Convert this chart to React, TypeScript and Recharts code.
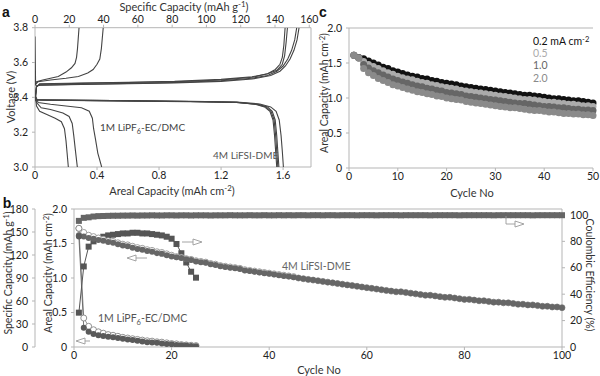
import React from "react";
import { ScatterChart, Scatter, ComposedChart, Line, XAxis, YAxis, ReferenceLine } from "recharts";

const FONT = "Lato, 'Open Sans', sans-serif";

// ---- panel a: voltage profiles, [areal capacity, voltage]
const initialSpike = [[0, 3.75], [0.002, 3.6], [0.004, 3.47]];
const lipfCharge1 = [[0, 3.47], [0.01, 3.49], [0.05, 3.5], [0.1, 3.51], [0.15, 3.52], [0.2, 3.545], [0.235, 3.57], [0.258, 3.595], [0.268, 3.63], [0.274, 3.68], [0.279, 3.74], [0.284, 3.8]];
const lipfCharge2 = [[0, 3.47], [0.02, 3.49], [0.1, 3.5], [0.2, 3.51], [0.28, 3.52], [0.34, 3.54], [0.375, 3.56], [0.4, 3.59], [0.418, 3.62], [0.428, 3.68], [0.434, 3.74], [0.44, 3.8]];
const lifsiCharge1 = [[0, 3.38], [0.01, 3.46], [0.03, 3.475], [0.3, 3.48], [0.6, 3.485], [0.9, 3.49], [1.2, 3.5], [1.4, 3.515], [1.5, 3.535], [1.55, 3.56], [1.58, 3.59], [1.595, 3.63], [1.605, 3.7], [1.613, 3.8]];
const lifsiCharge2 = [[0, 3.38], [0.01, 3.46], [0.03, 3.478], [0.3, 3.482], [0.6, 3.487], [0.9, 3.492], [1.2, 3.503], [1.4, 3.518], [1.5, 3.535], [1.56, 3.555], [1.595, 3.59], [1.61, 3.64], [1.62, 3.72], [1.628, 3.8]];
const lifsiCharge3 = [[0, 3.38], [0.01, 3.465], [0.03, 3.47], [0.3, 3.475], [0.6, 3.48], [0.9, 3.485], [1.2, 3.495], [1.4, 3.51], [1.5, 3.525], [1.56, 3.55], [1.6, 3.58], [1.63, 3.62], [1.655, 3.67], [1.675, 3.73], [1.688, 3.8]];
const lifsiCharge4 = [[0, 3.38], [0.01, 3.465], [0.03, 3.47], [0.3, 3.474], [0.6, 3.478], [0.9, 3.483], [1.2, 3.492], [1.4, 3.505], [1.52, 3.525], [1.58, 3.55], [1.615, 3.58], [1.645, 3.62], [1.67, 3.67], [1.69, 3.73], [1.703, 3.8]];
const lipfDischarge1 = [[0, 3.42], [0.01, 3.35], [0.03, 3.32], [0.08, 3.3], [0.13, 3.28], [0.17, 3.26], [0.19, 3.22], [0.2, 3.15], [0.207, 3.08], [0.215, 3.0]];
const lipfDischarge2 = [[0, 3.42], [0.01, 3.37], [0.04, 3.34], [0.1, 3.33], [0.18, 3.31], [0.22, 3.29], [0.24, 3.25], [0.25, 3.18], [0.26, 3.1], [0.273, 3.0]];
const lipfDischarge3 = [[0, 3.42], [0.02, 3.37], [0.1, 3.36], [0.2, 3.35], [0.3, 3.34], [0.35, 3.32], [0.37, 3.28], [0.378, 3.22], [0.39, 3.16], [0.405, 3.08], [0.43, 3.0]];
const lifsiDischarge1 = [[0, 3.4], [0.01, 3.385], [0.1, 3.383], [0.5, 3.38], [1.0, 3.375], [1.3, 3.37], [1.42, 3.36], [1.48, 3.345], [1.515, 3.32], [1.535, 3.27], [1.545, 3.18], [1.552, 3.09], [1.559, 3.0]];
const lifsiDischarge2 = [[0, 3.4], [0.01, 3.386], [0.1, 3.384], [0.5, 3.381], [1.0, 3.376], [1.3, 3.371], [1.43, 3.36], [1.49, 3.345], [1.522, 3.32], [1.542, 3.27], [1.552, 3.18], [1.559, 3.09], [1.566, 3.0]];
const lifsiDischarge3 = [[0, 3.4], [0.01, 3.386], [0.1, 3.384], [0.5, 3.381], [1.0, 3.376], [1.3, 3.372], [1.44, 3.36], [1.5, 3.345], [1.53, 3.32], [1.549, 3.27], [1.559, 3.18], [1.566, 3.09], [1.573, 3.0]];
const lifsiDischarge4 = [[0, 3.4], [0.01, 3.387], [0.1, 3.385], [0.5, 3.382], [1.0, 3.378], [1.3, 3.373], [1.45, 3.362], [1.52, 3.345], [1.555, 3.32], [1.575, 3.27], [1.587, 3.18], [1.595, 3.09], [1.602, 3.0]];

const voltageCurves = [
  initialSpike, lipfCharge1, lipfCharge2, lifsiCharge1, lifsiCharge2, lifsiCharge3, lifsiCharge4,
  lipfDischarge1, lipfDischarge2, lipfDischarge3, lifsiDischarge1, lifsiDischarge2, lifsiDischarge3, lifsiDischarge4,
];

// ---- panel b: cycling, 4M LiFSI-DME (100 cycles) and 1M LiPF6-EC/DMC (25 cycles)
const lifsiDis = [
  1.62, 1.6, 1.58, 1.57, 1.55, 1.54, 1.52, 1.51, 1.49, 1.47,
  1.46, 1.44, 1.42, 1.41, 1.39, 1.38, 1.36, 1.35, 1.33, 1.31,
  1.3, 1.29, 1.27, 1.26, 1.24, 1.23, 1.22, 1.2, 1.19, 1.17,
  1.16, 1.15, 1.14, 1.13, 1.11, 1.1, 1.09, 1.08, 1.07, 1.06,
  1.05, 1.04, 1.03, 1.02, 1.01, 1.0, 0.99, 0.98, 0.97, 0.96,
  0.95, 0.94, 0.93, 0.92, 0.91, 0.9, 0.89, 0.88, 0.87, 0.86,
  0.85, 0.84, 0.83, 0.82, 0.81, 0.8, 0.8, 0.79, 0.78, 0.77,
  0.76, 0.75, 0.75, 0.74, 0.73, 0.72, 0.72, 0.71, 0.7, 0.69,
  0.69, 0.68, 0.67, 0.67, 0.66, 0.65, 0.65, 0.64, 0.64, 0.63,
  0.62, 0.62, 0.61, 0.61, 0.6, 0.59, 0.59, 0.58, 0.58, 0.57,
];
const lifsiChg = [
  1.72, 1.66, 1.62, 1.6, 1.58, 1.56, 1.54, 1.53, 1.51, 1.49,
  1.48, 1.46, 1.44, 1.43, 1.41, 1.4, 1.38, 1.37, 1.35, 1.33,
  1.31, 1.3, 1.28, 1.27, 1.25, 1.24, 1.23, 1.21, 1.2, 1.18,
  1.17, 1.16, 1.15, 1.14, 1.12, 1.11, 1.1, 1.09, 1.08, 1.07,
  1.06, 1.05, 1.04, 1.03, 1.02, 1.0, 0.99, 0.98, 0.97, 0.96,
  0.95, 0.94, 0.93, 0.92, 0.91, 0.9, 0.89, 0.88, 0.87, 0.86,
  0.85, 0.84, 0.83, 0.82, 0.81, 0.8, 0.8, 0.79, 0.78, 0.77,
  0.76, 0.75, 0.75, 0.74, 0.73, 0.72, 0.72, 0.71, 0.7, 0.69,
  0.69, 0.68, 0.67, 0.67, 0.66, 0.65, 0.65, 0.64, 0.64, 0.63,
  0.62, 0.62, 0.61, 0.61, 0.6, 0.59, 0.59, 0.58, 0.58, 0.57,
];
const lifsiCE = [
  95.5, 97.8, 98.2, 98.8, 99.1, 99.2, 99.3, 99.4, 99.4, 99.5,
  99.5, 99.6, 99.5, 99.6, 99.6, 99.7, 99.6, 99.6, 99.7, 99.7,
  99.6, 99.7, 99.7, 99.6, 99.7, 99.7, 99.7, 99.6, 99.7, 99.7,
  99.7, 99.8, 99.7, 99.7, 99.7, 99.8, 99.7, 99.7, 99.8, 99.7,
  99.7, 99.8, 99.7, 99.8, 99.7, 99.8, 99.8, 99.7, 99.8, 99.8,
  99.7, 99.8, 99.8, 99.7, 99.8, 99.8, 99.8, 99.7, 99.8, 99.8,
  99.8, 99.7, 99.8, 99.8, 99.8, 99.8, 99.7, 99.8, 99.8, 99.8,
  99.8, 99.8, 99.7, 99.8, 99.8, 99.8, 99.8, 99.8, 99.7, 99.8,
  99.8, 99.8, 99.8, 99.8, 99.8, 99.7, 99.8, 99.8, 99.8, 99.8,
  99.8, 99.8, 99.8, 99.7, 99.8, 99.8, 99.8, 99.8, 99.8, 99.8,
];
const lipfDis = [
  1.6, 0.28, 0.22, 0.19, 0.17, 0.16, 0.15, 0.14, 0.13, 0.12,
  0.11, 0.1, 0.09, 0.08, 0.07, 0.065, 0.06, 0.05, 0.045, 0.04,
  0.03, 0.025, 0.02, 0.015, 0.01,
];
const lipfChg = [
  1.72, 0.42, 0.3, 0.25, 0.22, 0.2, 0.18, 0.17, 0.155, 0.14,
  0.13, 0.12, 0.11, 0.1, 0.09, 0.085, 0.075, 0.07, 0.06, 0.05,
  0.045, 0.035, 0.03, 0.025, 0.02,
];
const lipfCE = [
  26, 61, 76, 80, 82, 83.5, 84.5, 85, 85.5, 86,
  86, 86.5, 86.5, 86, 86, 85.5, 85, 84.5, 83.5, 82,
  78, 71, 64, 57, 52.5,
];

// ---- panel c: rate comparison (mA cm-2)
const rateLabels = ["0.2", "0.5", "1.0", "2.0"];
const rate02 = [
  1.61, 1.58, 1.56, 1.53, 1.5, 1.47, 1.44, 1.42, 1.39, 1.37,
  1.35, 1.33, 1.31, 1.3, 1.28, 1.27, 1.25, 1.24, 1.22, 1.21,
  1.2, 1.19, 1.17, 1.16, 1.15, 1.14, 1.13, 1.12, 1.11, 1.1,
  1.09, 1.08, 1.07, 1.06, 1.05, 1.04, 1.04, 1.03, 1.02, 1.01,
  1.0, 0.99, 0.99, 0.98, 0.97, 0.96, 0.96, 0.95, 0.94, 0.93,
];
const rate05 = [
  1.61, 1.57, 1.52, 1.48, 1.45, 1.42, 1.39, 1.36, 1.34, 1.31,
  1.29, 1.27, 1.26, 1.24, 1.22, 1.21, 1.19, 1.18, 1.16, 1.15,
  1.14, 1.13, 1.11, 1.1, 1.09, 1.08, 1.07, 1.06, 1.05, 1.04,
  1.03, 1.02, 1.01, 1.0, 0.99, 0.98, 0.98, 0.97, 0.96, 0.95,
  0.94, 0.94, 0.93, 0.92, 0.91, 0.91, 0.9, 0.89, 0.89, 0.88,
];
const rate10 = [
  1.61, 1.57, 1.48, 1.43, 1.39, 1.36, 1.33, 1.3, 1.27, 1.25,
  1.23, 1.21, 1.19, 1.17, 1.16, 1.14, 1.13, 1.11, 1.1, 1.08,
  1.07, 1.06, 1.05, 1.03, 1.02, 1.01, 1.0, 0.99, 0.98, 0.97,
  0.96, 0.95, 0.94, 0.93, 0.92, 0.92, 0.91, 0.9, 0.89, 0.88,
  0.88, 0.87, 0.86, 0.86, 0.85, 0.84, 0.84, 0.83, 0.83, 0.82,
];
const rate20 = [
  1.61, 1.57, 1.42, 1.36, 1.32, 1.28, 1.25, 1.22, 1.19, 1.17,
  1.15, 1.13, 1.11, 1.09, 1.08, 1.06, 1.05, 1.03, 1.02, 1.0,
  0.99, 0.98, 0.97, 0.95, 0.94, 0.93, 0.92, 0.91, 0.9, 0.89,
  0.88, 0.87, 0.86, 0.86, 0.85, 0.84, 0.83, 0.82, 0.82, 0.81,
  0.8, 0.8, 0.79, 0.78, 0.78, 0.77, 0.77, 0.76, 0.76, 0.75,
];
const rateColors = ["#111111", "#ababab", "#666666", "#8a8a8a"];

const cycleRows = lifsiDis.map((d, i) => ({
  cycle: i + 1,
  lifsiDis: d,
  lifsiChg: lifsiChg[i],
  lifsiCE: lifsiCE[i],
  lipfDis: lipfDis[i],
  lipfChg: lipfChg[i],
  lipfCE: lipfCE[i],
}));
const rateRows = rate02.map((v, i) => ({ cycle: i + 1, r02: v, r05: rate05[i], r10: rate10[i], r20: rate20[i] }));

const tickStyle = { fontSize: 10.5, fill: "#222", fontFamily: FONT };
const axisGray = "#b5b5b5";
const one = (v: number) => (v === 0 ? "0" : v.toFixed(1));

const circleDot = (fill: string, stroke: string, r: number) => (p: any) => {
  const k = `c${p.index}`;
  if (p.value == null || p.cy == null || Number.isNaN(p.cy)) return <g key={k} />;
  return <circle key={k} cx={p.cx} cy={p.cy} r={r} fill={fill} stroke={stroke} strokeWidth={0.8} />;
};
const squareDot = (fill: string, s: number) => (p: any) => {
  const k = `s${p.index}`;
  if (p.value == null || p.cy == null || Number.isNaN(p.cy)) return <g key={k} />;
  return <rect key={k} x={p.cx - s / 2} y={p.cy - s / 2} width={s} height={s} fill={fill} />;
};

function T({ x, y, rot = 0, start = false, color = "#333", size = 10.5, bold = false, children }: any) {
  return (
    <div
      style={{
        position: "absolute",
        left: x,
        top: y,
        transform: `translate(${start ? "0" : "-50%"}, -50%) rotate(${rot}deg)`,
        whiteSpace: "nowrap",
        fontFamily: bold ? "Arial, 'Liberation Sans', sans-serif" : FONT,
        fontWeight: bold ? 700 : 400,
        fontSize: size,
        lineHeight: 1,
        color,
      }}
    >
      {children}
    </div>
  );
}
const Sup = ({ children }: any) => <span style={{ fontSize: "0.72em", position: "relative", top: "-0.45em" }}>{children}</span>;
const Sub = ({ children }: any) => <span style={{ fontSize: "0.72em", position: "relative", top: "0.35em" }}>{children}</span>;

function Arrow({ x1, x2, y, dir }: { x1: number; x2: number; y: number; dir: "l" | "r" }) {
  const head = 9;
  const pts = dir === "r"
    ? `${x2 - head},${y - 3} ${x2},${y} ${x2 - head},${y + 3}`
    : `${x1 + head},${y - 3} ${x1},${y} ${x1 + head},${y + 3}`;
  const line = dir === "r" ? `M${x1},${y} L${x2 - head},${y}` : `M${x1 + head},${y} L${x2},${y}`;
  return (
    <g stroke="#9a9a9a" strokeWidth={0.9} fill="#fff">
      <path d={line} fill="none" />
      <polygon points={pts} />
    </g>
  );
}

export default function App() {
  return (
    <div style={{ position: "absolute", left: 0, top: 0, width: 600, height: 376, background: "#fff", overflow: "hidden" }}>
      {/* panel a */}
      <div style={{ position: "absolute", left: 0, top: 0 }}>
        <ScatterChart width={320} height={195} margin={{ top: 7.7, right: 9, bottom: 0, left: 0 }}>
          <XAxis xAxisId="bot" type="number" dataKey="x" domain={[0, 1.78]} allowDataOverflow ticks={[0, 0.4, 0.8, 1.2, 1.6]}
            tickFormatter={one} height={28} tick={tickStyle} stroke={axisGray} tickSize={3} />
          <XAxis xAxisId="top" orientation="top" type="number" dataKey="x" domain={[0, 161]} allowDataOverflow
            ticks={[0, 20, 40, 60, 80, 100, 120, 140, 160]} height={20} tick={tickStyle} stroke={axisGray} tickSize={3} />
          <YAxis type="number" dataKey="v" domain={[3.0, 3.8]} allowDataOverflow ticks={[3.0, 3.2, 3.4, 3.6, 3.8]}
            tickFormatter={(v: number) => v.toFixed(1)} width={35} tick={tickStyle} stroke={axisGray} tickSize={3} tickMargin={4} />
          <ReferenceLine xAxisId="bot" x={1.78} stroke={axisGray} />
          {voltageCurves.map((c, i) => (
            <Scatter key={i} xAxisId="bot" data={c.map(([x, v]) => ({ x, v }))} line={{ stroke: "#444", strokeWidth: 1.1 }}
              lineType="joint" shape={() => <g />} isAnimationActive={false} />
          ))}
        </ScatterChart>
      </div>

      {/* panel c */}
      <div style={{ position: "absolute", left: 310, top: 0 }}>
        <ComposedChart width={290} height={195} data={rateRows} margin={{ top: 28, right: 7, bottom: 0, left: 0 }}>
          <XAxis dataKey="cycle" type="number" domain={[0, 50]} ticks={[0, 10, 20, 30, 40, 50]} height={27}
            tick={tickStyle} stroke={axisGray} tickSize={3} />
          <YAxis domain={[0, 2]} allowDataOverflow ticks={[0, 0.5, 1, 1.5, 2]} tickFormatter={one} width={39}
            tick={tickStyle} stroke={axisGray} tickSize={3} tickMargin={4} />
          <ReferenceLine y={2} stroke={axisGray} />
          {["r02", "r05", "r10", "r20"].map((k, i) => (
            <Line key={k} dataKey={k} stroke="none" dot={circleDot(rateColors[i], "none", 3.5)} isAnimationActive={false} />
          ))}
        </ComposedChart>
      </div>

      {/* panel b */}
      <div style={{ position: "absolute", left: 0, top: 190 }}>
        <ComposedChart width={600} height={186} data={cycleRows} margin={{ top: 19, right: 0, bottom: 0, left: 0 }}>
          <XAxis dataKey="cycle" type="number" domain={[0, 100]} ticks={[0, 20, 40, 60, 80, 100]} height={29}
            tick={tickStyle} stroke={axisGray} tickSize={3} />
          <YAxis yAxisId="areal" domain={[0, 2]} allowDataOverflow ticks={[0, 0.5, 1, 1.5, 2]} tickFormatter={one}
            width={39} tick={tickStyle} stroke={axisGray} tickSize={3} tickMargin={4} />
          <YAxis yAxisId="spec" domain={[0, 180]} allowDataOverflow ticks={[0, 30, 60, 90, 120, 150, 180]}
            width={35} tick={tickStyle} stroke={axisGray} tickSize={3} tickMargin={4} />
          <YAxis yAxisId="ce" orientation="right" domain={[0, 104.5]} allowDataOverflow ticks={[0, 20, 40, 60, 80, 100]}
            width={38} tick={tickStyle} stroke={axisGray} tickSize={3} tickMargin={5} />
          <ReferenceLine yAxisId="areal" y={2} stroke={axisGray} />
          <Line yAxisId="ce" dataKey="lifsiCE" stroke="#666" strokeWidth={1} dot={squareDot("#666", 6)} isAnimationActive={false} />
          <Line yAxisId="ce" dataKey="lipfCE" stroke="#555" strokeWidth={1} dot={squareDot("#555", 6)} isAnimationActive={false} />
          <Line yAxisId="areal" dataKey="lifsiChg" stroke="#888" strokeWidth={0.8} dot={circleDot("#fff", "#888", 3)} isAnimationActive={false} />
          <Line yAxisId="areal" dataKey="lipfChg" stroke="#777" strokeWidth={0.8} dot={circleDot("#fff", "#777", 3)} isAnimationActive={false} />
          <Line yAxisId="areal" dataKey="lifsiDis" stroke="#666" strokeWidth={0.8} dot={circleDot("#666", "none", 3)} isAnimationActive={false} />
          <Line yAxisId="areal" dataKey="lipfDis" stroke="#555" strokeWidth={0.8} dot={circleDot("#5a5a5a", "none", 3)} isAnimationActive={false} />
        </ComposedChart>
      </div>

      {/* arrows of panel b */}
      <svg width={600} height={376} style={{ position: "absolute", left: 0, top: 0, pointerEvents: "none" }}>
        <Arrow x1={182} x2={202} y={242} dir="r" />
        <Arrow x1={127} x2={147} y={258} dir="l" />
        <Arrow x1={76} x2={90} y={341} dir="l" />
        <path d="M506,216 L506,224 L515,224" stroke="#9a9a9a" strokeWidth={0.9} fill="none" />
        <polygon points="515,221 524,224 515,227" stroke="#9a9a9a" strokeWidth={0.9} fill="#fff" />
      </svg>

      {/* text */}
      <T x={6} y={12} size={14} bold color="#111">a</T>
      <T x={7} y={203} size={14} bold color="#111">b</T>
      <T x={323} y={12} size={14} bold color="#111">c</T>

      <T x={184} y={7} size={11}>Specific Capacity (mAh g<Sup>-1</Sup>)</T>
      <T x={10} y={97} rot={-90} size={11}>Voltage (V)</T>
      <T x={172} y={191} size={11}>Areal Capacity (mAh cm<Sup>-2</Sup>)</T>
      <T x={100} y={127} start color="#444" size={10}>1M LiPF<Sub>6</Sub>-EC/DMC</T>
      <T x={213} y={155} start color="#555" size={10}>4M LiFSI-DME</T>

      <T x={324} y={93} rot={-90}>Areal Capacity (mAh cm<Sup>-2</Sup>)</T>
      <T x={472} y={192} size={11}>Cycle No</T>
      <T x={533} y={41} start color={rateColors[0]}>{rateLabels[0]} mA cm<Sup>-2</Sup></T>
      <T x={533} y={53} start color={rateColors[1]}>{rateLabels[1]}</T>
      <T x={533} y={65} start color={rateColors[2]}>{rateLabels[2]}</T>
      <T x={533} y={78} start color={rateColors[3]}>{rateLabels[3]}</T>

      <T x={8} y={273} rot={-90}>Specific Capacity (mAh g<Sup>-1</Sup>)</T>
      <T x={48} y={273} rot={-90}>Areal Capacity (mAh cm<Sup>-2</Sup>)</T>
      <T x={590} y={275} rot={90}>Coulombic Efficiency (%)</T>
      <T x={319} y={369} size={11}>Cycle No</T>
      <T x={282} y={266} start color="#666">4M LiFSI-DME</T>
      <T x={98} y={318} start color="#555">1M LiPF<Sub>6</Sub>-EC/DMC</T>
    </div>
  );
}
